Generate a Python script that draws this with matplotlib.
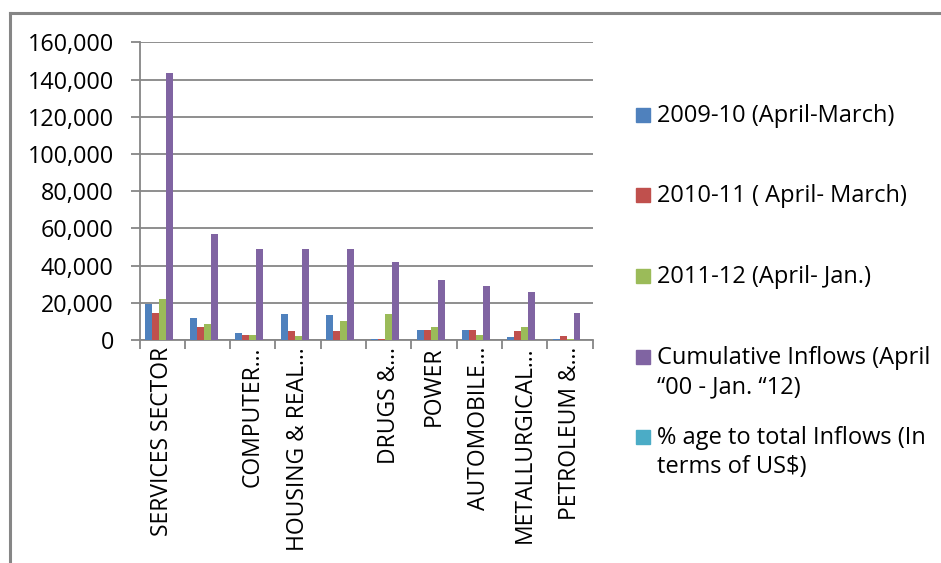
import matplotlib
matplotlib.use("Agg")
import matplotlib.pyplot as plt
import numpy as np
from matplotlib.lines import Line2D
from matplotlib.patches import Rectangle
from matplotlib.ticker import FuncFormatter

plt.rcParams['font.family'] = ['Open Sans', 'DejaVu Sans']

# Sectors (two labels are hidden on the axis in the original)
sectors = ["SERVICES SECTOR", "", "COMPUTER…", "HOUSING & REAL…", "",
           "DRUGS &…", "POWER", "AUTOMOBILE…", "METALLURGICAL…", "PETROLEUM &…"]

fy_2009_10 = [19600, 12050, 3800, 14000, 13500, 550, 5400, 5400, 1600, 550]
fy_2010_11 = [14550, 7000, 2700, 4850, 4850, 550, 5400, 5400, 4850, 2150]
fy_2011_12 = [22300, 8650, 2700, 2150, 10250, 14000, 7000, 2700, 7000, 550]
cumulative = [143600, 56800, 49050, 49050, 49050, 42050, 32350, 29100, 25900, 14550]
pct_total = [19, 7, 7, 7, 7, 5, 4, 4, 3, 2]

series_names = ["2009-10 (April-March)",
                "2010-11 ( April- March)",
                "2011-12 (April- Jan.)",
                "Cumulative Inflows (April\n\u201c00 - Jan. \u201c12)",
                "% age to total Inflows (In\nterms of US$)"]
series_vals = [fy_2009_10, fy_2010_11, fy_2011_12, cumulative, pct_total]
colors = ["#4F81BD", "#C0504D", "#9BBB59", "#8064A2", "#4BACC6"]

W, H = 941, 563
fig = plt.figure(figsize=(W / 100, H / 100), dpi=100)
ax = fig.add_axes([139.5 / W, 1 - 340 / H, (592.7 - 139.5) / W, (340 - 42.3) / H])

grid_c = "#868686"
n = len(sectors)
x = np.arange(n)
bw = 1 / 6.5  # gap width 150%
for i, vals in enumerate(series_vals):
    offs = -2.5 * bw + (i + 0.5) * bw
    ax.bar(x + offs, vals, width=bw, color=colors[i], zorder=3)

ax.set_xlim(-0.5, n - 0.5)
ax.set_ylim(0, 160000)
ax.set_yticks(np.arange(0, 160001, 20000))
ax.yaxis.set_major_formatter(FuncFormatter(lambda v, p: f"{int(v):,}"))
ax.yaxis.grid(True, color=grid_c, linewidth=1.3, zorder=0)
ax.set_axisbelow(True)

ax.set_xticks(x)
ax.set_xticklabels(sectors, rotation=90, ha='center', va='top', fontsize=16.5)
ax.set_xticks(np.arange(-0.5, n, 1), minor=True)
ax.tick_params(axis='x', which='major', length=0, pad=5)
ax.tick_params(axis='x', which='minor', length=6.5, width=1.3, color=grid_c)
ax.tick_params(axis='y', length=6.5, width=1.3, color=grid_c, labelsize=16.8, pad=12)

for s in ['top', 'right']:
    ax.spines[s].set_visible(False)
for s in ['left', 'bottom']:
    ax.spines[s].set_color(grid_c)
    ax.spines[s].set_linewidth(1.3)

# manual legend, square lined up with the first text line
for i, (name, c) in enumerate(zip(series_names, colors)):
    yc = 115 + 80.5 * i
    fig.add_artist(Rectangle((636 / W, 1 - (yc + 7) / H), 14 / W, 14 / H,
                             transform=fig.transFigure, color=c))
    fig.text(657 / W, 1 - (yc - 11) / H, name, fontsize=17, va='top', ha='left',
             linespacing=1.3)

# chart area border (top and left only visible)
fig.add_artist(Line2D([9.5 / W, 1], [1 - 12.5 / H, 1 - 12.5 / H],
                      transform=fig.transFigure, color=grid_c, linewidth=2.2))
fig.add_artist(Line2D([9.5 / W, 9.5 / W], [0, 1 - 12.5 / H],
                      transform=fig.transFigure, color=grid_c, linewidth=2.2))

fig.savefig("out.png", dpi=100)
